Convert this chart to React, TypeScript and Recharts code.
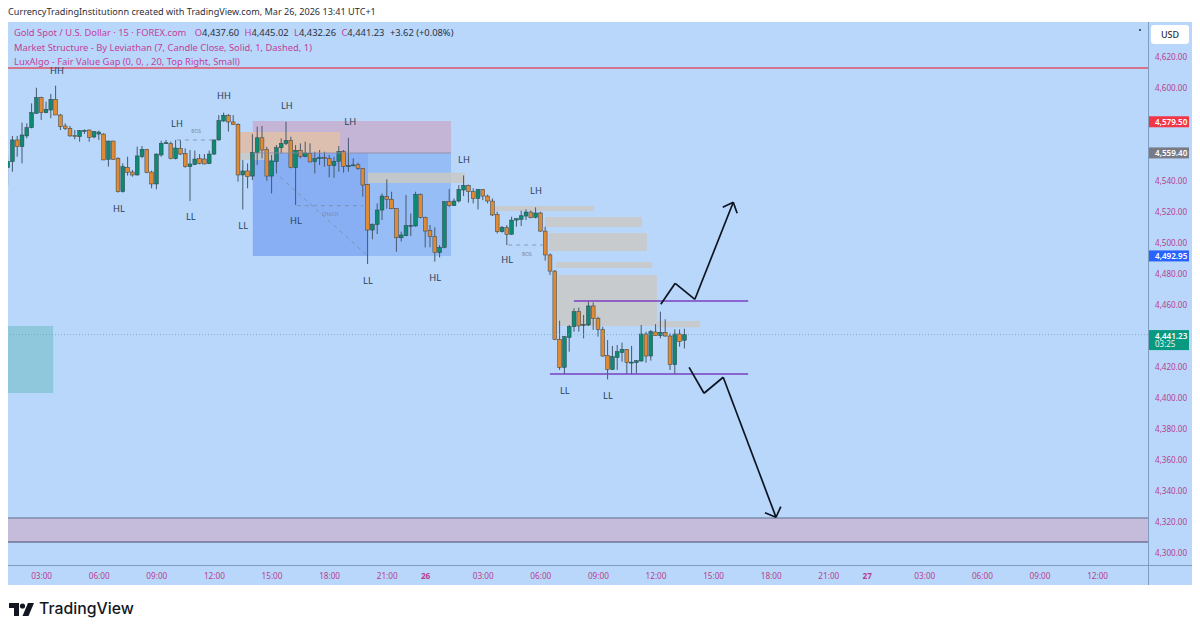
import React from "react";
import {
  ComposedChart, Bar, XAxis, YAxis, ReferenceArea, ReferenceLine, ReferenceDot,
} from "recharts";

const opens = [4548.9,4552.8,4566.8,4562.5,4569.4,4574.7,4584.0,4594.1,4584.4,4586.1,4593.0,4582.9,4575.8,4574.3,4569.6,4568.9,4572.8,4573.2,4568.7,4570.6,4570.6,4554.3,4566.1,4555.0,4533.4,4549.1,4546.1,4544.2,4556.0,4560.8,4546.1,4538.4,4557.1,4564.6,4564.4,4554.7,4561.4,4558.2,4549.6,4550.9,4554.7,4554.5,4551.5,4557.7,4566.8,4579.0,4582.7,4578.4,4576.9,4544.2,4546.8,4543.5,4558.6,4568.2,4560.7,4543.5,4552.8,4561.8,4564.6,4566.3,4548.9,4560.1,4556.0,4558.2,4552.8,4555.0,4555.4,4554.7,4550.2,4553.0,4559.4,4549.9,4550.4,4550.8,4548.5,4538.1,4508.7,4512.3,4521.6,4530.2,4528.5,4522.5,4503.7,4505.0,4511.3,4511.3,4531.5,4516.9,4508.3,4504.4,4494.1,4497.5,4527.0,4524.4,4527.4,4534.5,4537.5,4533.4,4529.1,4534.9,4530.6,4527.4,4518.8,4507.6,4510.2,4505.9,4515.1,4515.6,4517.7,4520.3,4516.9,4519.7,4508.0,4492.6,4482.2,4438.2,4420.1,4439.4,4446.3,4456.0,4447.2,4447.4,4459.7,4451.7,4444.4,4427.8,4418.8,4426.5,4429.6,4431.7,4423.1,4423.1,4424.2,4441.6,4427.4,4442.9,4440.5,4442.7,4440.3,4421.8,4441.6,4437.6];
const highs = [4556.0,4569.4,4569.4,4578.0,4577.5,4590.4,4600.5,4594.7,4591.5,4596.5,4601.8,4583.6,4577.5,4575.8,4573.2,4573.2,4573.6,4573.6,4572.6,4572.8,4571.1,4566.3,4566.3,4555.6,4551.7,4556.0,4547.4,4562.5,4562.9,4561.0,4547.0,4558.2,4566.3,4566.8,4565.7,4566.8,4566.8,4561.4,4560.3,4559.9,4557.7,4557.7,4559.9,4567.0,4582.9,4584.4,4583.5,4582.9,4577.5,4553.8,4551.7,4570.6,4575.4,4575.8,4562.4,4557.1,4563.5,4567.8,4578.6,4568.9,4563.5,4564.6,4565.7,4564.6,4559.2,4560.3,4559.2,4557.1,4556.0,4562.9,4560.3,4568.2,4554.9,4552.1,4548.7,4538.4,4513.0,4525.9,4532.3,4541.4,4533.4,4522.7,4507.6,4531.3,4519.4,4533.4,4532.3,4517.3,4511.9,4510.4,4499.0,4527.3,4535.1,4529.1,4537.7,4543.9,4538.0,4535.6,4535.1,4535.1,4531.5,4529.1,4520.5,4511.3,4511.9,4517.3,4516.2,4521.2,4522.0,4521.2,4523.3,4520.5,4510.8,4493.6,4482.9,4450.2,4440.3,4447.4,4458.2,4458.6,4453.9,4462.5,4462.0,4452.8,4446.3,4437.7,4433.9,4434.5,4436.0,4431.9,4433.9,4424.8,4447.4,4443.1,4444.2,4448.0,4456.0,4451.1,4442.0,4444.6,4444.6,4445.02];
const lows = [4537.7,4546.3,4556.0,4551.7,4567.9,4574.3,4583.6,4579.7,4584.0,4580.8,4582.9,4573.2,4573.2,4568.9,4567.2,4565.7,4570.7,4565.7,4567.9,4566.8,4553.9,4549.6,4553.9,4532.8,4532.8,4543.8,4543.1,4543.8,4555.0,4545.3,4535.6,4535.0,4556.0,4564.2,4554.3,4554.3,4557.1,4548.9,4527.4,4550.6,4551.1,4551.1,4551.2,4557.1,4566.3,4578.6,4572.2,4576.5,4539.9,4522.0,4535.6,4540.9,4550.6,4554.9,4540.5,4532.3,4545.2,4558.1,4563.5,4548.5,4524.8,4554.9,4555.6,4552.5,4545.2,4550.6,4549.5,4542.7,4542.4,4546.3,4545.7,4546.3,4550.0,4547.4,4530.2,4486.8,4502.7,4506.1,4515.1,4522.4,4522.2,4494.7,4501.2,4504.8,4504.8,4510.8,4516.2,4497.5,4497.5,4488.3,4491.0,4496.9,4523.7,4524.2,4526.5,4530.6,4526.3,4525.9,4522.0,4528.0,4525.9,4517.7,4506.5,4507.0,4499.0,4505.7,4510.8,4511.3,4515.1,4516.2,4516.2,4507.6,4488.9,4479.7,4437.7,4418.4,4415.8,4430.2,4443.1,4443.1,4438.8,4446.8,4444.2,4439.9,4427.0,4412.3,4418.4,4418.4,4423.7,4415.8,4415.8,4416.2,4423.7,4423.1,4424.4,4440.3,4438.8,4439.9,4418.4,4415.8,4433.4,4432.26];
const closes = [4553.0,4566.8,4562.5,4570.0,4574.7,4584.4,4594.1,4584.4,4586.6,4593.0,4582.9,4575.4,4574.1,4569.4,4568.9,4572.8,4573.0,4568.5,4572.2,4571.9,4553.9,4566.1,4554.3,4533.4,4549.6,4545.9,4544.2,4556.5,4560.8,4545.7,4538.4,4557.7,4564.6,4565.0,4554.7,4561.6,4557.7,4549.6,4551.3,4554.5,4551.7,4551.3,4557.7,4566.8,4579.3,4582.7,4578.4,4576.7,4544.2,4546.8,4543.1,4558.8,4568.2,4560.3,4543.5,4553.2,4561.8,4564.6,4566.3,4548.9,4560.1,4556.0,4558.4,4552.6,4554.9,4555.4,4555.0,4550.2,4553.0,4559.4,4549.8,4550.2,4550.7,4548.5,4537.7,4508.7,4512.3,4521.6,4530.6,4528.5,4522.4,4503.7,4505.5,4511.5,4511.7,4531.7,4516.9,4508.0,4504.4,4494.1,4497.5,4527.0,4524.4,4527.4,4534.9,4537.5,4533.4,4528.9,4534.9,4530.6,4527.4,4518.4,4507.6,4510.4,4505.9,4515.1,4516.0,4517.9,4520.3,4516.6,4519.7,4508.0,4492.6,4482.2,4438.2,4420.1,4439.9,4446.3,4456.0,4446.8,4447.8,4459.7,4451.7,4444.6,4427.4,4418.8,4427.0,4430.2,4431.7,4423.1,4423.5,4424.4,4441.6,4427.4,4443.1,4440.5,4442.7,4440.3,4421.8,4441.6,4436.7,4441.23];

const xTickIdx = [7,19,31,43,55,67,79,87,99,111,123,135,147,159,171,179,191,203,215,227];
const xTickLabels = ["03:00","06:00","09:00","12:00","15:00","18:00","21:00","26","03:00","06:00","09:00","12:00","15:00","18:00","21:00","27","03:00","06:00","09:00","12:00"];
const priceTicks = [4300,4320,4340,4360,4380,4400,4420,4460,4480,4500,4520,4540,4600,4620];

const pivots: [string, number, number][] = [
  ["HH",10.2,4611.3],["HH",45,4595.2],["LH",35.2,4577.1],["HL",23.1,4522.3],["LL",38.1,4517.1],["LL",49,4511.3],
  ["LH",58.1,4588.7],["LH",71.3,4578.4],["HL",60,4514.5],["LL",75,4475.8],["HL",89,4477.7],["LH",95,4553.9],
  ["LH",110,4533.9],["HL",104,4489.4],["LL",116,4404.8],["LL",125,4401.6],
];
const structureNotes: [string, number, number][] = [["BOS",39.2,4572.6],["CHoCH",67.1,4519],["BOS",108.1,4493.2]];
const structureDashes: [number, number, number, number][] = [
  [35.2,4566.8,42.7,4566.8],[60.2,4524.4,74,4524.4],[56.7,4542.9,75,4491.9],[104.2,4499,111.5,4499],
];
const gaps: [number, number, number, number][] = [
  [48.3,56,4558.4,4553.9],[75,95.2,4545.7,4539],[101,122.1,4524.2,4521],[111.9,132.1,4517.1,4510.6],
  [112.7,133.1,4506.8,4495.2],[114.2,134.2,4488.1,4484.2],[114.6,135.2,4479.7,4446.8],[135.2,144.2,4450,4446],
];
const arrowUp: [number, number][] = [[136,4460.8],[139,4474.3],[143.1,4464],[151.1,4526.6]];
const arrowUpHead: [number, number][] = [[148.9,4523.4],[151.1,4526.6],[151.9,4519.5]];
const arrowDown: [number, number][] = [[141.9,4420.1],[145,4403.4],[149,4413.7],[160,4323.4]];
const arrowDownHead: [number, number][] = [[157.7,4326.3],[160,4323.4],[161,4330.2]];
const priceTags: [string, number, string, string?][] = [
  ["4,579.50",4579.5,"#f23645"],["4,559.40",4559.4,"#787b86"],["4,492.95",4492.95,"#2962ff"],["4,441.23",4441.23,"#089981","03:25"],
];

const rows = opens.map((o, i) => ({ i, o, h: highs[i], l: lows[i], c: closes[i] }));
const FONT = "'Noto Sans', sans-serif";
const PINK = "#b83f8e";

function Candle(props: any) {
  const { x, y, width, height, payload } = props;
  const cx = x + width / 2;
  const perUnit = height / (payload.h - payload.l || 1);
  const top = y + (payload.h - Math.max(payload.o, payload.c)) * perUnit;
  const bottom = y + (payload.h - Math.min(payload.o, payload.c)) * perUnit;
  const up = payload.c >= payload.o;
  return (
    <g>
      <line x1={cx} x2={cx} y1={y} y2={y + height} stroke="#47586c" strokeWidth={1} />
      <rect x={cx - 1.9} width={3.8} y={top} height={Math.max(bottom - top, 1)}
        fill={up ? "#0f8a72" : "#df8a35"} stroke="#2f3f48" strokeWidth={0.5} />
    </g>
  );
}

function XTick({ x, y, payload }: any) {
  const pos = xTickIdx.indexOf(payload.value);
  const label = xTickLabels[pos];
  const isDay = label.length < 3;
  return (
    <text x={x} y={y + 6} textAnchor="middle" fontFamily={FONT} fontSize={8.2}
      fontWeight={isDay ? 700 : 400} fill={PINK}>{label}</text>
  );
}

function Tag({ viewBox, text, fill, sub }: any) {
  const left = viewBox.x + viewBox.width;
  const cy = viewBox.y + 1.5;
  const h = sub ? 20 : 11;
  const top = sub ? cy - 6 : cy - 5.5;
  return (
    <g>
      <rect x={left} y={top} width={41} height={h} fill={fill} />
      <text x={left + 7} y={top + 8.5} fontFamily={FONT} fontSize={8.1} fontWeight={600} fill="#fff">{text}</text>
      {sub ? <text x={left + 7} y={top + 17} fontFamily={FONT} fontSize={8} fill="#e4f5f0">{sub}</text> : null}
    </g>
  );
}

function polyline(points: [number, number][], key: string) {
  return points.slice(1).map((p, k) => (
    <ReferenceLine key={key + k} segment={[{ x: points[k][0], y: points[k][1] }, { x: p[0], y: p[1] }]}
      stroke="#0c1420" strokeWidth={1.7} ifOverflow="visible" />
  ));
}

const legendRow: React.CSSProperties = { position: "absolute", left: 14, fontFamily: FONT, fontSize: 9.35, color: "#c2409a", whiteSpace: "nowrap", lineHeight: "12px" };
const dark = { color: "#2a3140" };

export default function App() {
  return (
    <div style={{ position: "absolute", left: 0, top: 0, width: 1200, height: 633, background: "#fff", overflow: "hidden" }}>
      <div style={{ position: "absolute", left: 8, top: 6, fontFamily: FONT, fontSize: 9.12, color: "#2a2e39", whiteSpace: "nowrap", lineHeight: "12px" }}>
        CurrencyTradingInstitutionn created with TradingView.com, Mar 26, 2026 13:41 UTC+1
      </div>
      <div style={{ position: "absolute", left: 8, top: 22, width: 1184, height: 563, background: "#b9d7fb" }} />
      <div style={{ position: "absolute", left: 0, top: 0 }}>
        <ComposedChart width={1200} height={633} data={rows} margin={{ left: 8, right: 8, top: 22, bottom: 48 }}>
          <XAxis dataKey="i" type="number" domain={[0, 237.5]} allowDataOverflow ticks={xTickIdx} interval={0}
            height={20} tick={<XTick />} tickLine={false} axisLine={false} />
          <YAxis orientation="right" type="number" domain={[4292.58, 4642.9]} allowDataOverflow ticks={priceTicks} interval={0}
            width={44} tickLine={false} tickSize={0} tickMargin={7} axisLine={false}
            tickFormatter={(v: number) => v.toLocaleString("en-US", { minimumFractionDigits: 2 })}
            tick={{ fill: PINK, fontSize: 8.1, fontFamily: FONT }} />

          <ReferenceArea x1={0} x2={9.4} y1={4403.5} y2={4446.8} fill="#8fc8dc" fillOpacity={1} stroke="none" />
          <ReferenceArea x1={0} x2={237.5} y1={4307.4} y2={4322.9} fill="#c5bcdc" fillOpacity={1} stroke="none" />
          <ReferenceArea x1={51} x2={92.3} y1={4558.4} y2={4579} fill="#c4b4d6" fillOpacity={1} stroke="none" />
          <ReferenceArea x1={51} x2={75} y1={4492} y2={4558.4} fill="#88aef4" fillOpacity={1} stroke="none" />
          <ReferenceArea x1={75} x2={92.3} y1={4492} y2={4558.4} fill="#97bdf6" fillOpacity={1} stroke="none" />
          <ReferenceArea x1={48.3} x2={69.2} y1={4558.4} y2={4571.9} fill="#dcbfae" fillOpacity={1} stroke="none" />
          {gaps.map((g, k) => (
            <ReferenceArea key={"g" + k} x1={g[0]} x2={g[1]} y1={g[3]} y2={g[2]} fill="#c9c9c4" fillOpacity={0.85} stroke="none" />
          ))}

          <Bar dataKey={(d: any) => [d.l, d.h]} barSize={4} shape={<Candle />} isAnimationActive={false} />

          <ReferenceLine y={4613.2} stroke="#e0526a" strokeWidth={1.5} />
          <ReferenceLine y={4322.9} stroke="#5f6d88" strokeWidth={1.2} />
          <ReferenceLine y={4307.4} stroke="#2a2a48" strokeWidth={0.8} />
          <ReferenceLine y={4441.23} stroke="#6a9fb0" strokeWidth={0.7} strokeDasharray="1 2" />
          <ReferenceLine segment={[{ x: 51, y: 4558.4 }, { x: 92.3, y: 4558.4 }]} stroke="#8a8aa0" strokeWidth={0.8} />
          <ReferenceLine segment={[{ x: 117.9, y: 4462.9 }, { x: 154.2, y: 4462.9 }]} stroke="#7a3fc0" strokeWidth={1.4} />
          <ReferenceLine segment={[{ x: 112.9, y: 4415.8 }, { x: 154.2, y: 4415.8 }]} stroke="#7a3fc0" strokeWidth={1.4} />
          {structureDashes.map((d, k) => (
            <ReferenceLine key={"d" + k} segment={[{ x: d[0], y: d[1] }, { x: d[2], y: d[3] }]}
              stroke="#7c8ba0" strokeWidth={0.8} strokeDasharray="4 4" />
          ))}
          {polyline(arrowUp, "u")}
          {polyline(arrowUpHead, "uh")}
          {polyline(arrowDown, "n")}
          {polyline(arrowDownHead, "nh")}

          {pivots.map((p, k) => (
            <ReferenceDot key={"p" + k} x={p[1]} y={p[2]} r={0} stroke="none"
              label={{ value: p[0], position: "center", fill: "#2b4057", fontSize: 9.4, fontFamily: FONT }} />
          ))}
          {structureNotes.map((p, k) => (
            <ReferenceDot key={"s" + k} x={p[1]} y={p[2]} r={0} stroke="none"
              label={{ value: p[0], position: "center", fill: "#7c8ba0", fontSize: 5, fontFamily: FONT }} />
          ))}
          {priceTags.map((t, k) => (
            <ReferenceLine key={"t" + k} y={t[1]} stroke="none"
              label={(props: any) => <Tag viewBox={props.viewBox} text={t[0]} fill={t[2]} sub={t[3]} />} />
          ))}
        </ComposedChart>
      </div>

      <div style={{ position: "absolute", left: 1148, top: 22, width: 1, height: 563, background: "#7f9cbf" }} />
      <div style={{ position: "absolute", left: 8, top: 565, width: 1184, height: 1, background: "#7f9cbf" }} />
      <div style={{ position: "absolute", left: 1139, top: 29, width: 2, height: 2, background: "#2a2e39", borderRadius: 1 }} />
      <div style={{ position: "absolute", left: 1151, top: 25, width: 38, height: 19, background: "#fff", borderRadius: 3, fontFamily: FONT, fontSize: 9, fontWeight: 500, color: "#2a2e39", textAlign: "center", lineHeight: "19px" }}>USD</div>

      <div style={{ ...legendRow, top: 27 }}>
        Gold Spot / U.S. Dollar · 15 · FOREX.com{"  "}
        <span style={{ marginLeft: 6 }}>O</span><span style={dark}>4,437.60</span>{" "}
        <span style={{ marginLeft: 3 }}>H</span><span style={dark}>4,445.02</span>{" "}
        <span style={{ marginLeft: 3 }}>L</span><span style={dark}>4,432.26</span>{" "}
        <span style={{ marginLeft: 3 }}>C</span><span style={dark}>4,441.23</span>{" "}
        <span style={{ ...dark, marginLeft: 3 }}>+3.62 (+0.08%)</span>
      </div>
      <div style={{ ...legendRow, top: 41.5 }}>Market Structure - By Leviathan (7, Candle Close, Solid, 1, Dashed, 1)</div>
      <div style={{ ...legendRow, top: 55.5 }}>LuxAlgo - Fair Value Gap (0, 0, , 20, Top Right, Small)</div>

      <svg style={{ position: "absolute", left: 9, top: 603 }} width={26} height={13} viewBox="0 0 26 13">
        <path d="M0 0H10V13H5V5H0Z" fill="#131722" />
        <circle cx={13.5} cy={3} r={2.6} fill="#131722" />
        <path d="M19 0H25L19.5 13H13.5Z" fill="#131722" />
      </svg>
      <div style={{ position: "absolute", left: 39, top: 598, fontFamily: "Inter, sans-serif", fontSize: 15.8, fontWeight: 500, color: "#131722", lineHeight: "22px" }}>TradingView</div>
    </div>
  );
}
